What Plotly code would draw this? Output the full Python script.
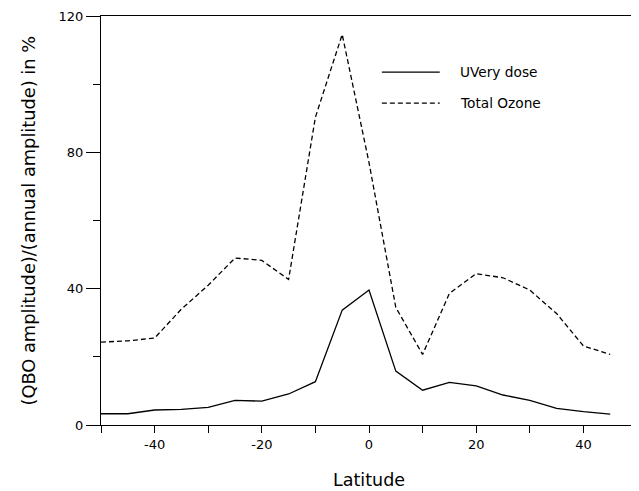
import plotly.graph_objects as go

latitude = [-50, -45, -40, -35, -30, -25, -20, -15, -10, -5, 0, 5, 10, 15, 20, 25, 30, 35, 40, 45]
uvery_dose = [3.3, 3.3, 4.4, 4.6, 5.2, 7.2, 7.0, 9.1, 12.7, 33.7, 39.6, 15.8, 10.2, 12.5, 11.5, 8.8, 7.2, 4.9, 3.9, 3.2]
total_ozone = [24.3, 24.7, 25.5, 34.0, 41.0, 49.0, 48.3, 42.7, 90.3, 114.6, 77.0, 34.5, 20.7, 38.6, 44.4, 43.2, 39.6, 32.7, 23.2, 20.7]
series_names = ["UVery dose", "Total Ozone"]
x_tick_vals = [-50, -40, -30, -20, -10, 0, 10, 20, 30, 40, 50]
x_tick_text = ["", "-40", "", "-20", "", "0", "", "20", "", "40", ""]
y_tick_vals = [0, 40, 80, 120]

FONT = "DejaVu Sans"

fig = go.Figure()
fig.add_trace(go.Scatter(x=latitude, y=uvery_dose, mode="lines", name=series_names[0],
                         line=dict(color="black", width=1.3), showlegend=False))
fig.add_trace(go.Scatter(x=latitude, y=total_ozone, mode="lines", name=series_names[1],
                         line=dict(color="black", width=1.3, dash="5px,3px"), showlegend=False))

# manual legend
legend_rows = [(0.863, "solid", series_names[0]), (0.787, "5px,3px", series_names[1])]
for yy, dash, label in legend_rows:
    fig.add_shape(type="line", xref="paper", yref="paper", x0=0.524, x1=0.632, y0=yy, y1=yy,
                  line=dict(color="black", width=1.3, dash=dash))
    fig.add_annotation(xref="paper", yref="paper", x=0.666, y=yy, text=label, showarrow=False,
                       xanchor="left", yanchor="middle", font=dict(family=FONT, size=13.7, color="black"))

# axis titles
fig.add_annotation(xref="paper", yref="paper", x=0.5, y=-55 / 409, text="Latitude", showarrow=False,
                   xanchor="center", yanchor="middle", font=dict(family=FONT, size=17.5, color="black"))
fig.add_annotation(xref="paper", yref="paper", x=-73 / 536, y=0.5, text="(QBO amplitude)/(annual amplitude) in %",
                   showarrow=False, textangle=-90, xanchor="center", yanchor="middle",
                   font=dict(family=FONT, size=17.8, color="black"))

# page body has an 8px margin, so the figure is sized/offset to land on the window
fig.update_layout(
    width=631, height=483,
    margin=dict(l=93, r=2, t=8, b=66),
    plot_bgcolor="white", paper_bgcolor="white",
    font=dict(family=FONT, size=13, color="black"),
    xaxis=dict(range=[-50, 50], tickvals=x_tick_vals, ticktext=x_tick_text, automargin=False,
               ticks="outside", ticklen=7, tickwidth=1, tickcolor="black",
               showline=True, linecolor="black", linewidth=1, mirror=True,
               showgrid=False, zeroline=False,
               tickfont=dict(family=FONT, size=13)),
    yaxis=dict(range=[0, 120], tickvals=y_tick_vals, automargin=False,
               ticks="outside", ticklen=14, tickwidth=1, tickcolor="black",
               minor=dict(tickvals=[20, 60, 100], ticks="outside", ticklen=7, tickcolor="black", showgrid=False),
               showline=True, linecolor="black", linewidth=1, mirror=True,
               showgrid=False, zeroline=False,
               tickfont=dict(family=FONT, size=13)),
)

fig.write_html("out.html")
